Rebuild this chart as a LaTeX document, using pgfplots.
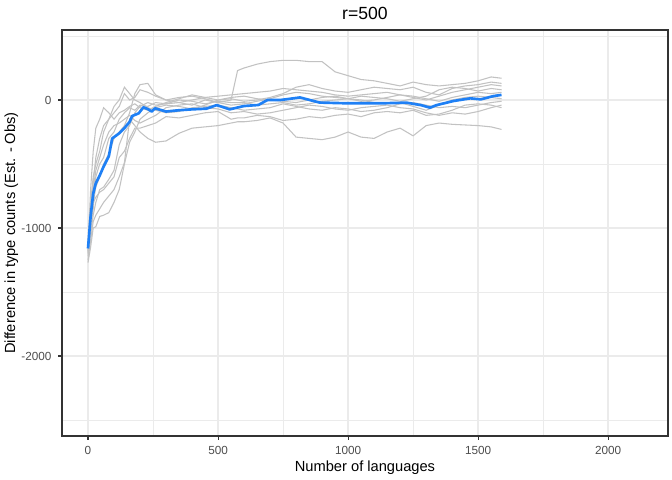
\documentclass[border=0pt]{standalone}
\usepackage{fontspec}
\setmainfont{Liberation Sans}
\usepackage{pgfplots}
\usepackage{pgfplotstable}
\pgfplotsset{compat=1.18}
\definecolor{grey20}{HTML}{333333}
\definecolor{grey30}{HTML}{4D4D4D}
\definecolor{grey92}{HTML}{EBEBEB}
\definecolor{runsgrey}{HTML}{C2C2C2}
\definecolor{meanblue}{HTML}{1F80F5}

% ten resampling runs
\pgfplotstableread{
x     g1    g2    g3    g4    g5    g6    g7    g8    g9    g10
0    -1200 -1250 -1180 -1150 -1220 -1170 -1190 -1140 -1270 -1160
10   -1000 -1100  -950  -800 -1050  -850 -1000  -900 -1150  -700
20    -850  -950  -800  -600  -900  -650  -800  -700 -1000  -400
30    -600  -900  -760  -500  -800  -450  -680  -550  -990  -220
45    -500  -850  -720  -400  -700  -300  -600  -450  -910  -150
60    -450  -800  -700  -250  -680  -200  -500  -350  -900   -60
80    -300  -750  -650  -150  -620  -150  -420  -250  -880  -100
100   -250  -700  -600  -100  -550   -50  -300  -200  -800  -150
120   -150  -600  -450   -50  -350     0  -250  -180  -700  -100
140   -100  -490  -400    50  -250   100  -200  -150  -500   -80
160    -60  -150  -300     0  -200    50  -100  -120  -330   -50
180    -80  -200  -220    20  -100     0    50  -160  -250   -30
200    -40  -250  -220    80   -50   -20   120  -180  -150   -60
230    -50  -300  -200    60   -20   -60   130  -150  -100   -80
260    -20  -330  -180    30   -40   -80    40  -120   -60   -50
300    -30  -320  -130     0   -30  -100     0   -60   -40   -20
350    -20  -260  -140   -20     0   -90    20   -40   -50    10
400    -40  -220  -120     0   -10   -60    30   -30   -70    40
450      0  -210  -100    20   -30   -50    10   -60   -40    20
500    -20  -200   -90    30   -10   -40   -20   -70     0     0
550      0  -180  -150    40   -20   -60   -40  -100    20    10
575    230  -170  -140    45   -20   -70   -35   -95    25     0
600    250  -170  -140    50   -20   -80   -30   -90    30   -10
650    280  -160  -120    60   -40   -70   -10  -110    10     0
700    300  -140  -130    70   -30   -60    10  -100     0    20
750    310  -180  -160    90   -20   -30    40   -80   -10    50
800    310  -290  -150    80   -40   -50    60   -60   -20   100
850    300  -300  -130    70   -30   -70    50   -40     0   120
900    300  -310  -140    60   -10   -80    30   -50    20    90
950    220  -290  -120    40     0   -60    20   -70    30    70
1000   190  -250  -110    30    10   -70    10   -80    10    60
1050   160  -290  -130    40     0   -90    30   -60   -10    80
1100   150  -300  -100    50   -20   -80    20   -50     0   100
1150   130  -250   -90    60   -30   -60    10   -40    20    90
1200   110  -220  -100    40   -20   -30   -10   -60    40    80
1250   140  -280   -80    20   -50   -20    10   -70    30   100
1300   120  -200  -120     0   -80   -40    30  -100    10    60
1350   110  -180  -110    30   -40   -60    80  -120   -10    40
1400   120  -190   -80    60     0   -50   100  -100    20    90
1450   130  -195   -40    80    20   -60    90  -110    40   110
1500   150  -200   -30   100    30   -40    70   -90    60   120
1550   180  -210   -40   120    20   -20    90   -60    50   140
1590   170  -230   -60   110    10   -10    80   -40    60   130
}\runs

% mean over the runs
\pgfplotstableread{
x     y
0    -1160
10    -910
20    -730
30    -650
45    -590
60    -520
80    -440
93    -300
100   -290
120   -260
140   -220
160   -170
170   -125
195   -104
213    -57
232    -73
245    -90
258    -65
300    -90
350    -80
400    -73
455    -68
495    -40
545    -73
600    -47
655    -39
690      0
740      0
790     13
815     20
890    -20
1000   -26
1120   -26
1225   -21
1280   -40
1315   -60
1340   -40
1405    -8
1470    13
1510     5
1560    31
1590    40
}\meanrun

\begin{document}
\begin{tikzpicture}
\begin{axis}[
    name=main,
    scale only axis,
    width=454.5pt, height=304.5pt,
    xmin=-100, xmax=2230,
    ymin=-2625, ymax=547,
    xtick={0,500,1000,1500,2000},
    xticklabels={0,500,1000,1500,2000},
    ytick={-2000,-1000,0},
    yticklabels={-2000,-1000,0},
    minor xtick={250,750,1250,1750},
    minor ytick={-2500,-1500,-500,500},
    grid=both,
    major grid style={draw=grey92, line width=1.07pt},
    minor grid style={draw=grey92, line width=0.53pt},
    axis line style={draw=grey20, line width=0.8pt},
    tick align=outside,
    major tick length=2.75pt,
    minor tick length=0pt,
    tick style={draw=grey20, line width=0.8pt},
    xtick pos=bottom, ytick pos=left,
    ticklabel style={font=\fontsize{8.8}{10}\selectfont, text=grey30},
    xticklabel style={anchor=north, inner sep=0pt, yshift=-4.95pt},
    yticklabel style={anchor=east, inner sep=0pt, xshift=-4.95pt},
    xlabel={Number of languages},
    ylabel={Difference in type counts (Est. - Obs)},
    label style={font=\fontsize{11}{13}\selectfont},
    xlabel style={at={(axis description cs:0.5,0)}, anchor=base, yshift=-26.5pt},
    ylabel style={at={(axis description cs:0,0.5)}, anchor=center, yshift=38pt},
    title={r=500},
    title style={at={(axis description cs:0.5,1)}, anchor=base, yshift=1.5pt,
                 font=\fontsize{13.2}{15}\selectfont},
]
\pgfplotsinvokeforeach{1,...,10}{
  \addplot[runsgrey, line width=0.8pt, no markers] table[x=x, y=g#1] {\runs};
}
\addplot[meanblue, line width=2pt, no markers, line join=round] table[x=x, y=y] {\meanrun};
\end{axis}
\pgfresetboundingbox
\path[use as bounding box] ([xshift=-46.5pt,yshift=-33pt]main.south west)
  rectangle ([xshift=3pt,yshift=22.5pt]main.north east);
\end{tikzpicture}
\end{document}
